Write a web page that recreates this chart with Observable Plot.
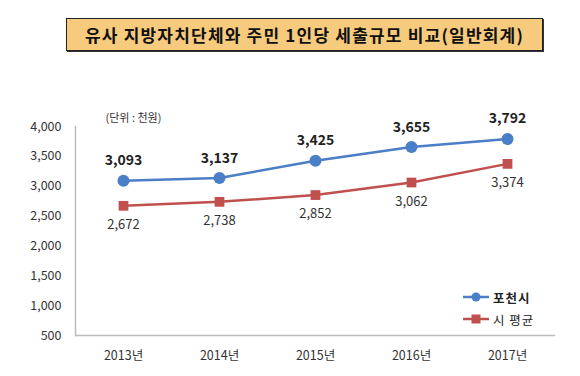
<!DOCTYPE html>
<html><head><meta charset="utf-8">
<script src="https://cdn.jsdelivr.net/npm/d3@7"></script>
<script src="https://cdn.jsdelivr.net/npm/@observablehq/plot@0.6"></script>
<style>
body{margin:0;background:#fff;font-family:"Noto Sans CJK KR","Noto Sans",sans-serif;}
#wrap{position:relative;width:580px;height:376px;}
#title{position:absolute;left:66px;top:18px;width:475px;height:31px;background:#F6CB7E;border:1px solid #222;box-shadow:1px 1px 0 #333;
 font-family:"Noto Sans CJK KR",serif;font-weight:700;font-size:17px;line-height:31px;text-align:center;color:#111;letter-spacing:1.2px;}
#chart{position:absolute;left:0;top:62px;}
#legend{position:absolute;left:463px;top:286px;font-size:12.5px;font-weight:700;color:#222;}
#legend div{height:22px;display:flex;align-items:center;}
#legend svg{margin-right:4px;}
</style></head>
<body><div id="wrap">
<div id="title">유사 지방자치단체와 주민 1인당 세출규모 비교(일반회계)</div>
<div id="chart"></div>
<div id="legend"></div>
</div>
<script>
const years = ["2013년","2014년","2015년","2016년","2017년"];
const pocheon = [3093,3137,3425,3655,3792];
const cityAvg = [2672,2738,2852,3062,3374];
const seriesNames = ["포천시","시 평균"];
const colors = ["#4A7EC6","#C0504D"];
const yTicks = [500,1000,1500,2000,2500,3000,3500,4000];
const unitLabel = "(단위 : 천원)";

const dataA = years.map((y,i)=>({year:y,value:pocheon[i]}));
const dataB = years.map((y,i)=>({year:y,value:cityAvg[i]}));
const fmt = d3.format(",");

const plot = Plot.plot({
  width:580, height:314,
  marginLeft:75, marginRight:25, marginTop:64, marginBottom:41,
  style:{fontFamily:'"Noto Sans CJK KR","Noto Sans",sans-serif', fontSize:"12.5px", color:"#333", background:"transparent"},
  x:{type:"band", domain:years, padding:0, label:null},
  y:{domain:[500,4000], label:null},
  marks:[
    Plot.axisY({ticks:yTicks, tickSize:0, tickPadding:14, tickFormat:fmt, fontSize:12.5, fill:"#333"}),
    Plot.axisX({tickSize:0, tickPadding:16, fontSize:12.5, fill:"#333"}),
    Plot.frame({anchor:"left", stroke:"#bbb", strokeWidth:1.5}),
    Plot.ruleY([500], {stroke:"#bbb", strokeWidth:1.5}),
    Plot.text([unitLabel], {frameAnchor:"top-left", dx:30, dy:-12, fontSize:11, fill:"#333", textAnchor:"start"}),
    Plot.line(dataB, {x:"year", y:"value", stroke:colors[1], strokeWidth:2.5}),
    Plot.line(dataA, {x:"year", y:"value", stroke:colors[0], strokeWidth:2.5}),
    Plot.dot(dataB, {x:"year", y:"value", symbol:"square", r:5.5, fill:colors[1], stroke:"none"}),
    Plot.dot(dataA, {x:"year", y:"value", symbol:"circle", r:6, fill:colors[0], stroke:"none"}),
    Plot.text(dataA, {x:"year", y:"value", text:d=>fmt(d.value), dy:-20, fontSize:14, fontWeight:"bold", fill:"#222"}),
    Plot.text(dataB, {x:"year", y:"value", text:d=>fmt(d.value), dy:19, fontSize:13, fill:"#333"})
  ]
});
document.getElementById("chart").appendChild(plot);

const leg = document.getElementById("legend");
seriesNames.forEach((n,i)=>{
  const div = document.createElement("div");
  const marker = i===0 ? `<circle cx="13" cy="6" r="4.5" fill="${colors[i]}"/>` : `<rect x="8.5" y="1.5" width="9" height="9" fill="${colors[i]}"/>`;
  div.innerHTML = `<svg width="26" height="12"><line x1="0" x2="26" y1="6" y2="6" stroke="${colors[i]}" stroke-width="2.5"/>${marker}</svg><span style="font-weight:${i===0?700:400};letter-spacing:1px">${n}</span>`;
  leg.appendChild(div);
});
</script>
</body></html>
